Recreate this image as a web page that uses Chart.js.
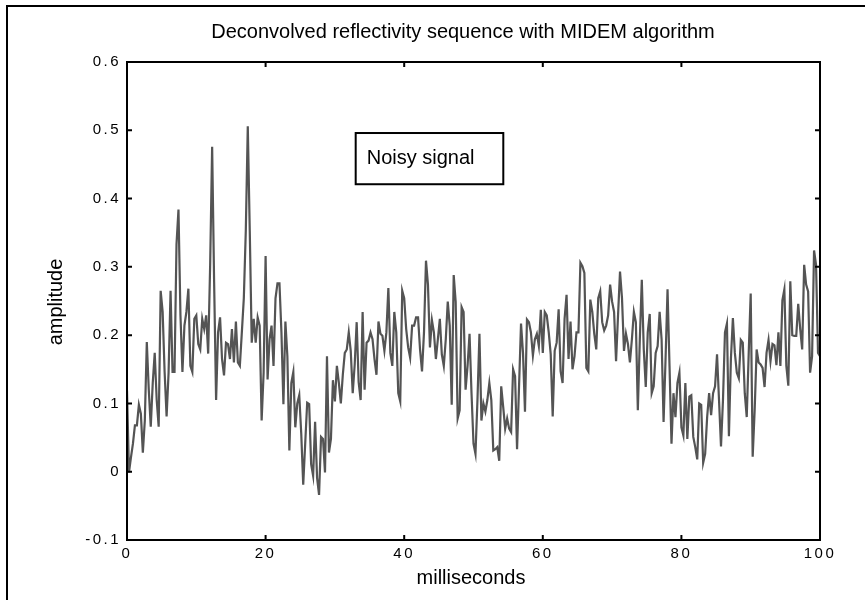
<!DOCTYPE html>
<html lang="en">
<head>
    <meta charset="UTF-8">
    <meta name="viewport" content="width=device-width, initial-scale=1.0">
    <script src="https://cdn.jsdelivr.net/npm/chart.js"></script>
    <title>Deconvolved reflectivity sequence with MIDEM algorithm</title>
    <style>
        body {
            margin: 0;
            background: #fff;
        }
        .frame {
            position: absolute;
            left: 6px;
            top: 5px;
            width: 859px;
            height: 595px;
            border-left: 2px solid #000;
            border-top: 2px solid #000;
        }
        .chart-container {
            position: absolute;
            left: 0;
            top: 0;
            width: 865px;
            height: 600px;
        }
    </style>
</head>
<body>
    <div class="frame"></div>
    <div class="chart-container">
        <canvas id="myChart" width="865" height="600"></canvas>
    </div>

    <script>
        // Amplitude, in four pieces of about 25 ms each
        const amp0to25 = [
            0.119, -0.001, 0.021, 0.041, 0.068, 0.068, 0.098, 0.085, 0.028, 0.075,
            0.190, 0.120, 0.066, 0.130, 0.174, 0.105, 0.066, 0.265, 0.234, 0.146,
            0.081, 0.145, 0.265, 0.146, 0.146, 0.333, 0.384, 0.229, 0.146, 0.214,
            0.234, 0.268, 0.155, 0.146, 0.224, 0.229, 0.187, 0.179, 0.224, 0.209,
            0.229, 0.173, 0.303, 0.476, 0.278, 0.105, 0.204, 0.226, 0.165, 0.141,
            0.189, 0.187, 0.165, 0.209, 0.160, 0.220, 0.160, 0.155, 0.204, 0.254,
            0.353, 0.506, 0.353, 0.189, 0.224, 0.189, 0.226, 0.214, 0.075, 0.145,
            0.316, 0.135, 0.194, 0.214, 0.155, 0.254, 0.276, 0.276, 0.204, 0.099,
            0.220, 0.169, 0.031, 0.130, 0.146, 0.065
        ];
        const amp25to50 = [
            0.100, 0.112, 0.056, -0.019, 0.041, 0.101, 0.099, 0.011, -0.006, 0.073,
            -0.009, -0.034, 0.051, 0.048, -0.001, 0.169, 0.028, 0.048, 0.134, 0.103,
            0.155, 0.130, 0.100, 0.142, 0.174, 0.179, 0.204, 0.177, 0.115, 0.157,
            0.219, 0.131, 0.105, 0.234, 0.120, 0.189, 0.192, 0.204, 0.194, 0.165,
            0.142, 0.220, 0.202, 0.199, 0.177, 0.204, 0.269, 0.174, 0.155, 0.234,
            0.204, 0.115, 0.103, 0.265, 0.254, 0.209, 0.182, 0.167, 0.214, 0.214,
            0.226, 0.226, 0.179, 0.147, 0.204, 0.309, 0.274, 0.182, 0.222, 0.204,
            0.165, 0.194, 0.224, 0.172, 0.155, 0.194, 0.249, 0.214, 0.098, 0.288,
            0.249, 0.078, 0.090, 0.241, 0.234, 0.120
        ];
        const amp50to75 = [
            0.155, 0.202, 0.115, 0.041, 0.026, 0.105, 0.202, 0.075, 0.100, 0.088,
            0.105, 0.130, 0.105, 0.031, 0.033, 0.036, 0.016, 0.125, 0.095, 0.063,
            0.078, 0.063, 0.058, 0.150, 0.140, 0.033, 0.125, 0.217, 0.174, 0.088,
            0.223, 0.219, 0.204, 0.170, 0.194, 0.202, 0.184, 0.237, 0.174, 0.234,
            0.229, 0.204, 0.172, 0.081, 0.177, 0.189, 0.238, 0.147, 0.130, 0.224,
            0.259, 0.165, 0.220, 0.150, 0.169, 0.204, 0.204, 0.306, 0.301, 0.291,
            0.152, 0.147, 0.252, 0.234, 0.202, 0.179, 0.254, 0.264, 0.219, 0.207,
            0.214, 0.229, 0.274, 0.249, 0.234, 0.162, 0.229, 0.293, 0.254, 0.177,
            0.202, 0.187, 0.160, 0.194, 0.234, 0.219, 0.090
        ];
        const amp75to100 = [
            0.194, 0.281, 0.179, 0.124, 0.204, 0.231, 0.115, 0.125, 0.174, 0.184,
            0.234, 0.194, 0.073, 0.165, 0.267, 0.155, 0.041, 0.115, 0.080, 0.130,
            0.145, 0.065, 0.053, 0.130, 0.048, 0.110, 0.112, 0.051, 0.036, 0.018,
            0.100, 0.098, 0.013, 0.026, 0.080, 0.115, 0.083, 0.115, 0.125, 0.172,
            0.105, 0.037, 0.105, 0.204, 0.217, 0.052, 0.165, 0.225, 0.174, 0.145,
            0.137, 0.193, 0.189, 0.115, 0.080, 0.174, 0.261, 0.022, 0.090, 0.179,
            0.160, 0.157, 0.152, 0.124, 0.174, 0.193, 0.162, 0.187, 0.185, 0.156,
            0.204, 0.155, 0.251, 0.267, 0.155, 0.126, 0.279, 0.200, 0.199, 0.199,
            0.246, 0.209, 0.179, 0.303, 0.274, 0.264, 0.145, 0.169, 0.324, 0.303,
            0.174, 0.169
        ];

        const xTicks = [0, 20, 40, 60, 80, 100];
        const yTicks = [-0.1, 0, 0.1, 0.2, 0.3, 0.4, 0.5, 0.6];
        const durationMs = 100;

        const chartTitle = 'Deconvolved reflectivity sequence with MIDEM algorithm';
        const xTitle = 'milliseconds';
        const yTitle = 'amplitude';
        const noteText = 'Noisy signal';

        const amplitude = amp0to25.concat(amp25to50, amp50to75, amp75to100);
        const step = durationMs / (amplitude.length - 1);
        const points = amplitude.map((v, i) => ({ x: i * step, y: v }));

        const fontFamily = "'Liberation Sans', Arial, sans-serif";

        // Box, inward ticks, note box and the titles (drawn without letter spacing)
        const matlabFrame = {
            id: 'matlabFrame',
            beforeDraw(chart) {
                chart.ctx.letterSpacing = '2.5px';
            },
            afterDraw(chart) {
                const ctx = chart.ctx;
                const a = chart.chartArea;
                const x = chart.scales.x;
                const y = chart.scales.y;
                ctx.save();
                ctx.letterSpacing = '0px';
                ctx.strokeStyle = '#000';
                ctx.lineWidth = 2;
                ctx.strokeRect(a.left, a.top, a.right - a.left, a.bottom - a.top);

                ctx.beginPath();
                xTicks.forEach(v => {
                    const px = x.getPixelForValue(v);
                    ctx.moveTo(px, a.bottom);
                    ctx.lineTo(px, a.bottom - 5);
                    ctx.moveTo(px, a.top);
                    ctx.lineTo(px, a.top + 5);
                });
                yTicks.forEach(v => {
                    const py = y.getPixelForValue(v);
                    ctx.moveTo(a.left, py);
                    ctx.lineTo(a.left + 5, py);
                    ctx.moveTo(a.right, py);
                    ctx.lineTo(a.right - 5, py);
                });
                ctx.stroke();

                // note box
                const bx1 = x.getPixelForValue(33.0);
                const bx2 = x.getPixelForValue(54.3);
                const by1 = y.getPixelForValue(0.496);
                const by2 = y.getPixelForValue(0.421);
                ctx.fillStyle = '#fff';
                ctx.fillRect(bx1, by1, bx2 - bx1, by2 - by1);
                ctx.strokeRect(bx1, by1, bx2 - bx1, by2 - by1);
                ctx.fillStyle = '#000';
                ctx.font = '20px ' + fontFamily;
                ctx.textAlign = 'left';
                ctx.textBaseline = 'middle';
                ctx.fillText(noteText, bx1 + 11, (by1 + by2) / 2);

                // titles
                ctx.textAlign = 'center';
                ctx.fillText(chartTitle, 463, 32);
                ctx.fillText(xTitle, 471, 578);
                ctx.translate(56, 302);
                ctx.rotate(-Math.PI / 2);
                ctx.fillText(yTitle, 0, 0);
                ctx.restore();
            }
        };

        const ctx = document.getElementById('myChart');
        new Chart(ctx, {
            type: 'line',
            data: {
                datasets: [{
                    label: noteText,
                    data: points,
                    borderColor: '#545454',
                    borderWidth: 2.2,
                    pointRadius: 0,
                    tension: 0,
                    fill: false
                }]
            },
            options: {
                responsive: false,
                animation: false,
                layout: {
                    padding: { top: 62, right: 45, left: 0, bottom: 0 }
                },
                plugins: {
                    legend: { display: false },
                    tooltip: { enabled: false },
                    title: { display: false }
                },
                scales: {
                    x: {
                        type: 'linear',
                        min: 0,
                        max: 100,
                        afterFit: s => { s.height = 60; },
                        afterBuildTicks: s => { s.ticks = xTicks.map(v => ({ value: v })); },
                        grid: { display: false, drawTicks: false },
                        border: { display: false },
                        ticks: {
                            padding: 5,
                            color: '#000',
                            maxRotation: 0,
                            font: { family: fontFamily, size: 15 }
                        }
                    },
                    y: {
                        min: -0.1,
                        max: 0.6,
                        afterFit: s => { s.width = 127; },
                        afterBuildTicks: s => { s.ticks = yTicks.map(v => ({ value: v })); },
                        grid: { display: false, drawTicks: false },
                        border: { display: false },
                        ticks: {
                            padding: 6,
                            color: '#000',
                            font: { family: fontFamily, size: 15 },
                            callback: v => (Math.abs(v) < 1e-9 ? '0' : v.toFixed(1))
                        }
                    }
                }
            },
            plugins: [matlabFrame]
        });
    </script>
</body>
</html>
